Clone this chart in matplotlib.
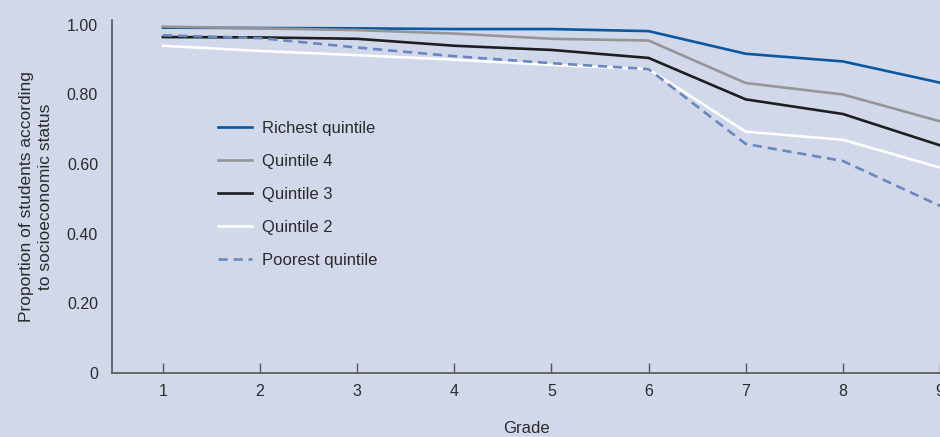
import matplotlib
matplotlib.use("Agg")
import matplotlib.pyplot as plt

grades = [1, 2, 3, 4, 5, 6, 7, 8, 9]
richest = [0.992, 0.991, 0.990, 0.988, 0.988, 0.982, 0.917, 0.895, 0.834]
quint4 = [0.995, 0.990, 0.985, 0.975, 0.960, 0.955, 0.833, 0.800, 0.723]
quint3 = [0.965, 0.964, 0.960, 0.940, 0.928, 0.905, 0.786, 0.744, 0.654]
quint2 = [0.940, 0.925, 0.913, 0.900, 0.885, 0.873, 0.693, 0.670, 0.590]
poorest = [0.970, 0.962, 0.935, 0.910, 0.890, 0.873, 0.658, 0.609, 0.480]
labels = ["Richest quintile", "Quintile 4", "Quintile 3", "Quintile 2", "Poorest quintile"]
yticks = [0, 0.2, 0.4, 0.6, 0.8, 1.0]
ytick_labels = ["0", "0.20", "0.40", "0.60", "0.80", "1.00"]

plt.rcParams['font.family'] = ['Liberation Sans', 'DejaVu Sans']

bg = '#D1D8EA'
txt = '#2B2B2B'
fig = plt.figure(figsize=(9.4, 4.37), dpi=100, facecolor=bg)
ax = fig.add_axes([112/940, 1-373/437, 828/940, (373-20)/437])
ax.set_facecolor(bg)

series = [richest, quint4, quint3, quint2, poorest]
colors = ['#0B57A0', '#959595', '#1E1E1E', '#FFFFFF', '#6A87C2']
styles = ['-', '-', '-', '-', (0, (3.5, 2.2))]
for s, c, ls, lab in zip(series, colors, styles, labels):
    ax.plot(grades, s, color=c, lw=1.9, linestyle=ls, label=lab, solid_joinstyle='miter')

ax.set_xlim(0.475, 8.995)
ax.set_ylim(0, 1.014)
ax.set_xticks(grades)
ax.set_xticklabels([str(g) for g in grades], fontsize=11.5, color=txt)
ax.set_yticks(yticks)
ax.set_yticklabels(ytick_labels, fontsize=11.5, color=txt)
ax.tick_params(axis='x', direction='in', length=7, width=1, color='#555555', pad=8)
ax.tick_params(axis='y', length=0, pad=10)
for sp in ['top', 'right']:
    ax.spines[sp].set_visible(False)
for sp in ['left', 'bottom']:
    ax.spines[sp].set_color('#555555')
    ax.spines[sp].set_linewidth(1.2)

ax.set_xlabel('Grade', fontsize=12, color=txt, labelpad=16)
ax.set_ylabel('Proportion of students according\nto socioeconomic status', fontsize=12.5,
              color=txt, labelpad=10, linespacing=1.35)

leg = ax.legend(loc='upper left', bbox_to_anchor=(0.128, 0.714), frameon=False,
                fontsize=12, handlelength=2.05, labelspacing=1.08, handletextpad=0.6,
                borderpad=0, borderaxespad=0, labelcolor=txt)

fig.savefig('out.png', dpi=100, facecolor=bg)
